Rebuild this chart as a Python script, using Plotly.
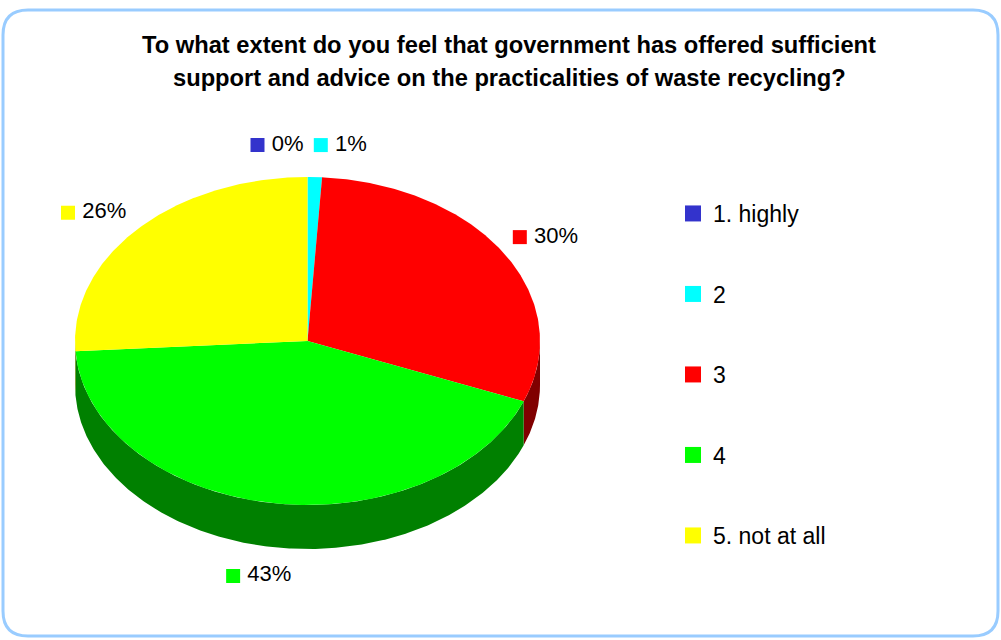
import numpy as np
import plotly.graph_objects as go

# Survey answers and their shares (percent)
categories = ["1. highly", "2", "3", "4", "5. not at all"]
shares = [0, 1, 30, 43, 26]

top_colors = ["#3333CC", "#00FFFF", "#FF0000", "#00FF00", "#FFFF00"]
side_colors = ["#1A1A66", "#008080", "#800000", "#008000", "#808000"]

# Pie geometry in pixel space (axes are mapped 1:1 to the canvas)
W, H = 1001, 640
cx, cy = 307.5, 341.0
rx, ry = 232.5, 164.0
depth = 44.0

# Label offsets from the rim point at each slice's mid-angle
label_nudge = [(-50, -32), (6, -32), (16, -16), (-38, 29), (-70, -16)]

FONT = "Arial, Liberation Sans"


def rim(t_deg, dy=0.0):
    t = np.radians(t_deg)
    return cx + rx * np.sin(t), cy - ry * np.cos(t) + dy


def arc(a0, a1, dy=0.0):
    n = max(int(abs(a1 - a0) * 2) + 2, 3)
    ts = np.linspace(a0, a1, n)
    xs, ys = rim(ts, dy)
    return list(xs), list(ys)


total = float(sum(shares))
bounds = np.concatenate([[0.0], np.cumsum(shares) / total * 360.0])

fig = go.Figure()

# Side walls of the front half (angles 90..270, clockwise from 12 o'clock)
for i, v in enumerate(shares):
    a0, a1 = bounds[i], bounds[i + 1]
    s, e = max(a0, 90.0), min(a1, 270.0)
    if v == 0 or e <= s:
        continue
    tx, ty = arc(s, e)
    bx, by = arc(e, s, depth)
    fig.add_trace(go.Scatter(
        x=tx + bx + [tx[0]], y=ty + by + [ty[0]],
        mode="lines", fill="toself", fillcolor=side_colors[i],
        line=dict(width=0, color=side_colors[i]),
        hoverinfo="skip", showlegend=False))

# Top faces
for i, v in enumerate(shares):
    if v == 0:
        continue
    a0, a1 = bounds[i], bounds[i + 1]
    ax_, ay_ = arc(a0, a1)
    fig.add_trace(go.Scatter(
        x=[cx] + ax_ + [cx], y=[cy] + ay_ + [cy],
        mode="lines", fill="toself", fillcolor=top_colors[i],
        line=dict(width=0, color=top_colors[i]),
        hoverinfo="skip", showlegend=False))

# Data labels: colour key plus percentage
for i, v in enumerate(shares):
    mid = (bounds[i] + bounds[i + 1]) / 2.0
    px, py = rim(mid, depth if 90 < mid < 270 else 0.0)
    dx, dy = label_nudge[i]
    fig.add_trace(go.Scatter(
        x=[px + dx], y=[py + dy], mode="markers+text",
        marker=dict(symbol="square", size=14, color=top_colors[i]),
        text=[f"\u2009{v}%"], textposition="middle right",
        textfont=dict(family=FONT, size=22, color="black"),
        hoverinfo="skip", showlegend=False))

# Legend entries
for i, name in enumerate(categories):
    fig.add_trace(go.Scatter(
        x=[None], y=[None], mode="markers", name=name,
        legendgroup=name,
        marker=dict(symbol="square", size=16, color=top_colors[i])))

title_lines = [
    "To what extent do you feel that government has offered sufficient",
    "support and advice on the practicalities of waste recycling?",
]
annotations = [
    dict(x=509, y=yy, xref="x", yref="y", text=f"<b>{t}</b>", showarrow=False,
         font=dict(family=FONT, size=23.7, color="black"),
         xanchor="center", yanchor="middle")
    for t, yy in zip(title_lines, [45, 78])
]

fig.update_layout(
    width=W, height=H,
    margin=dict(l=0, r=0, t=0, b=0),
    paper_bgcolor="white", plot_bgcolor="white",
    xaxis=dict(range=[0, W], visible=False, fixedrange=True),
    yaxis=dict(range=[H, 0], visible=False, fixedrange=True),
    showlegend=True,
    legend=dict(x=673 / W, y=1 - 192 / H, xanchor="left", yanchor="top",
                font=dict(family=FONT, size=23, color="black"),
                tracegroupgap=47.6, bgcolor="rgba(0,0,0,0)"),
    annotations=annotations,
    shapes=[dict(
        type="path", xref="x", yref="y",
        path="M 28,10 L 973,10 Q 998,10 998,35 L 998,611 Q 998,636 973,636 "
             "L 28,636 Q 3,636 3,611 L 3,35 Q 3,10 28,10 Z",
        line=dict(color="#99CCFF", width=3), layer="below")],
)

fig.write_html("out.html")
